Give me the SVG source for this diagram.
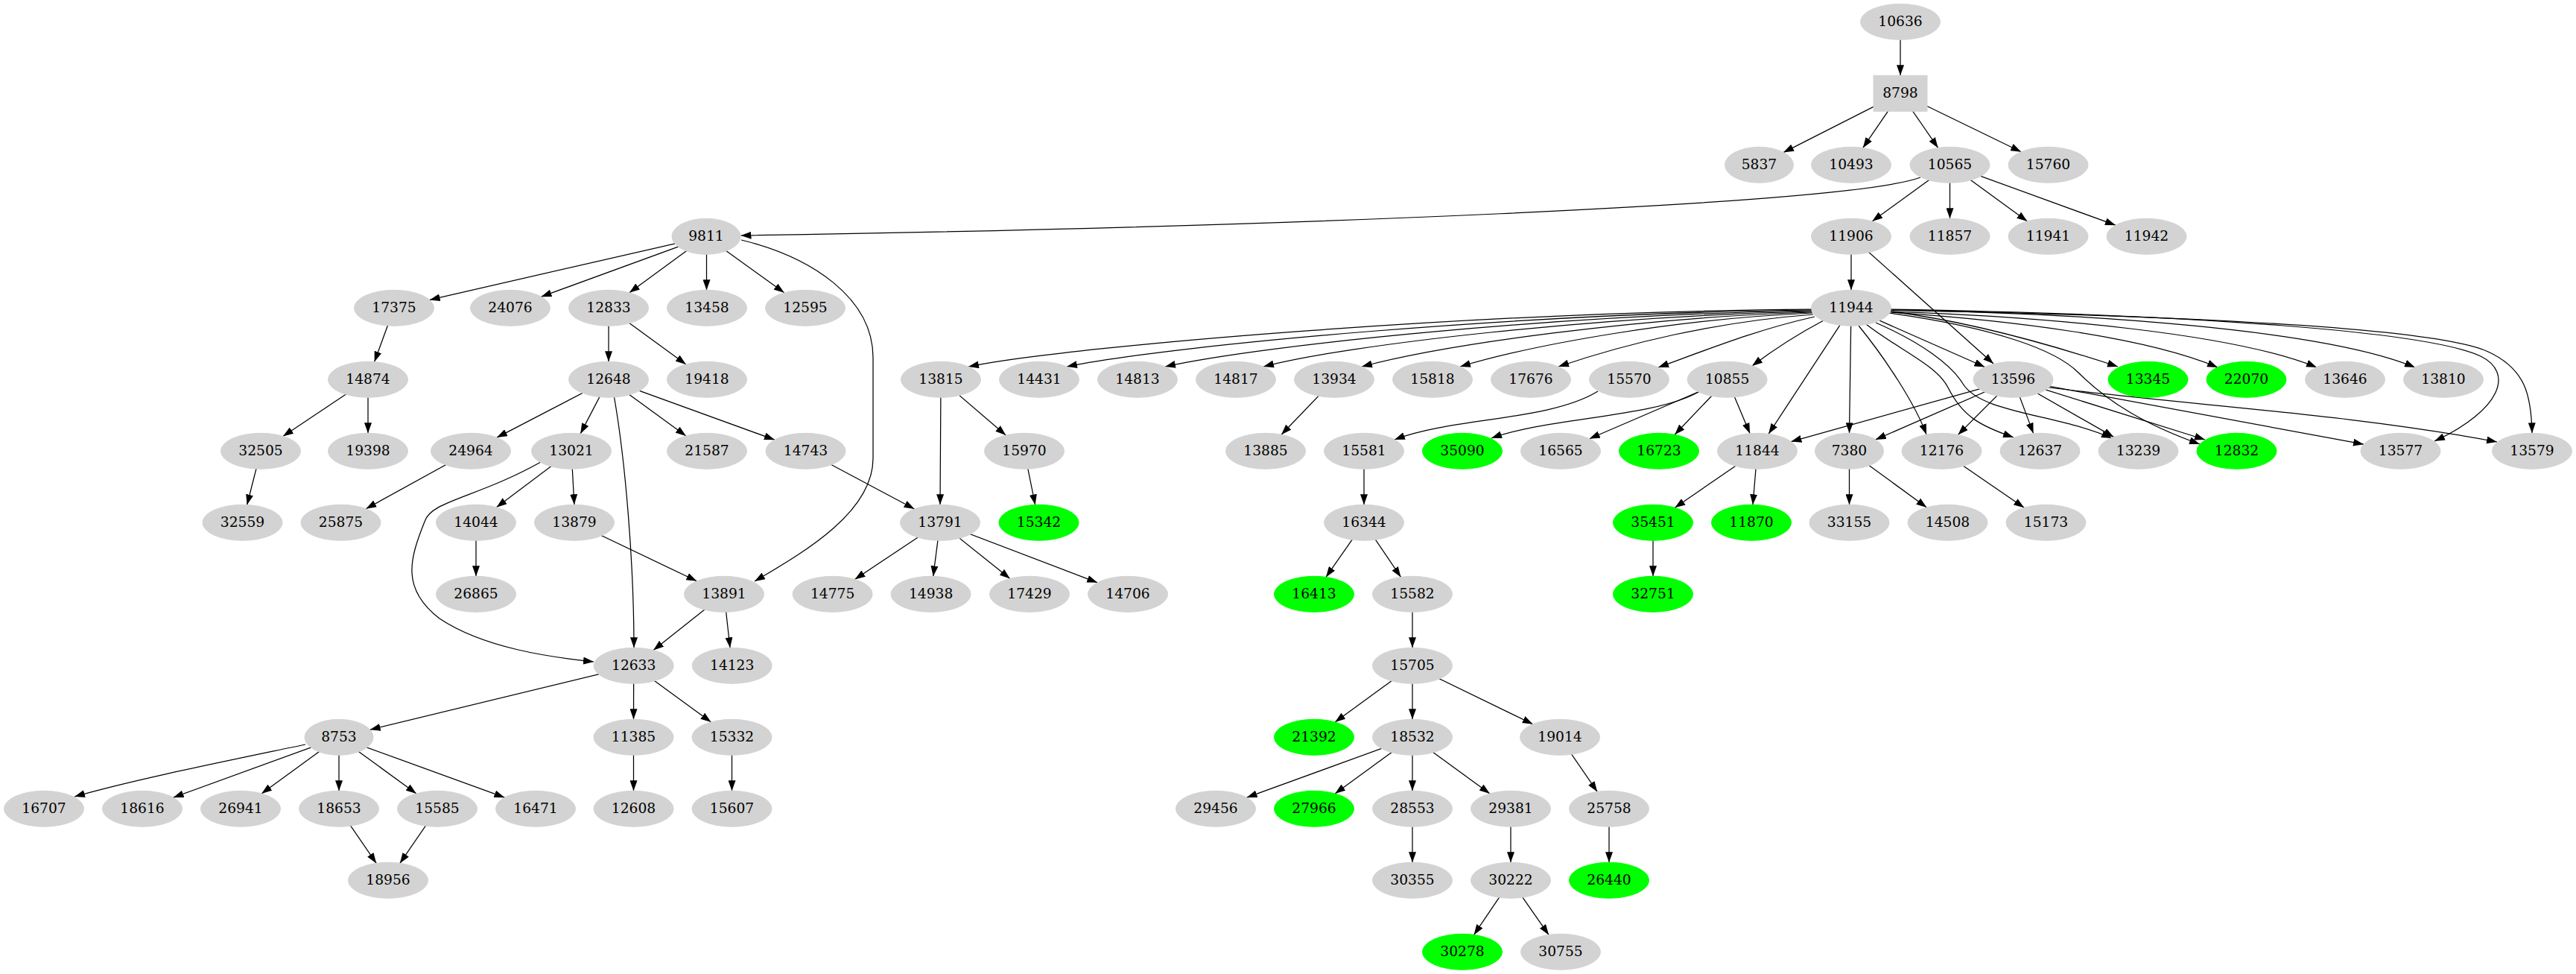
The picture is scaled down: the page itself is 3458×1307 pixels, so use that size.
<svg xmlns="http://www.w3.org/2000/svg" width="3458" height="1307" viewBox="0 0 3458 1307">
<style>
.node ellipse,.node rect{fill:#d3d3d3;stroke:#d3d3d3;stroke-width:1}
.node.g ellipse{fill:#00ff00;stroke:#00ff00}
.node text{font-family:"DejaVu Serif",serif;font-size:18.67px;text-anchor:middle;fill:#000}
#edges path{fill:none;stroke:#000;stroke-width:1.25;marker-end:url(#arr)}
</style>
<defs>
<marker id="arr" markerUnits="userSpaceOnUse" markerWidth="14" markerHeight="10" viewBox="0 0 14 10" refX="14" refY="5" orient="auto"><path d="M0,0 L14,5 L0,10 z" fill="#000"/></marker>
</defs>
<rect width="3458" height="1307" fill="#fff"/>
<g id="edges">
<path d="M2551,29 L2551,101.3"/>
<path d="M2551,125 L2394,204.6"/>
<path d="M2551,125 L2500.8,198.4"/>
<path d="M2551,125 L2601.6,198.4"/>
<path d="M2551,125 L2713.1,203.7"/>
<path d="M2578,238 C2480,275 1700,305 994.5,316"/>
<path d="M2617.5,221.3 L2513.2,296.9"/>
<path d="M2617.5,221.3 L2617.5,293.3"/>
<path d="M2617.5,221.3 L2721.4,296.9"/>
<path d="M2617.5,221.3 L2839.9,302.2"/>
<path d="M2485,317.3 L2485,389.3"/>
<path d="M2485,317.3 L2676,488"/>
<path d="M948,317.3 L576.7,402.4"/>
<path d="M948,317.3 L726.5,398.2"/>
<path d="M948,317.3 L844.9,392.8"/>
<path d="M948.5,317.3 L948.5,389.3"/>
<path d="M948,317.3 L1052.7,392.8"/>
<path d="M995,322 C1090,345 1172,400 1172,480 L1172,615 C1172,690 1072,745 1013,780"/>
<path d="M529,413.3 L502.6,485.6"/>
<path d="M817,413.3 L817,485.3"/>
<path d="M817,413.3 L920.9,488.9"/>
<path d="M494,509.3 L379.9,585.4"/>
<path d="M494,509.3 L494,581.3"/>
<path d="M350,605.3 L331.6,677.5"/>
<path d="M817,509.3 L667,587.1"/>
<path d="M817,509.3 L779.2,581.9"/>
<path d="M817,509.3 L920.9,584.9"/>
<path d="M817,509.3 L1039.9,590.2"/>
<path d="M824,530 C840,620 851,760 851,869.3"/>
<path d="M632,605.3 L491.3,682.7"/>
<path d="M767,605.3 L666.5,680.7"/>
<path d="M767,605.3 L770.9,677.3"/>
<path d="M726,620 C640,668 578,672 570,700 C550,750 538,790 590,830 C650,870 740,882 797,888"/>
<path d="M771,701.3 L935.4,779.8"/>
<path d="M639,701.3 L639,773.3"/>
<path d="M1081.5,605.3 L1227.5,683"/>
<path d="M972,797.3 L877.1,872.4"/>
<path d="M972,797.3 L980,869.3"/>
<path d="M850.7,893.3 L496.7,979.2"/>
<path d="M850.7,893.3 L850.5,965.3"/>
<path d="M850.7,893.3 L954.5,968.9"/>
<path d="M410,999 C300,1022 180,1046 100,1069"/>
<path d="M455,989.3 L232.6,1070.2"/>
<path d="M455,989.3 L351.1,1064.9"/>
<path d="M455,989.3 L455,1061.3"/>
<path d="M455,989.3 L558.9,1064.9"/>
<path d="M455,989.3 L677.4,1070.2"/>
<path d="M455,1085.3 L505.2,1158.4"/>
<path d="M587,1085.3 L536.8,1158.4"/>
<path d="M850.5,989.3 L850.5,1061.3"/>
<path d="M982.5,989.3 L982.5,1061.3"/>
<path d="M2432,415 C2000,418 1454,462 1300,492"/>
<path d="M2432,416 C2050,420 1580,462 1432,492"/>
<path d="M2432,417 C2100,422 1700,462 1564,492"/>
<path d="M2432,418 C2150,424 1810,462 1696,492"/>
<path d="M2432,419 C2200,426 1940,462 1828,492"/>
<path d="M2433,420 C2250,428 2060,462 1960,492"/>
<path d="M2434,422 C2300,432 2180,462 2092,492"/>
<path d="M2436,425 C2360,442 2300,466 2226,493"/>
<path d="M2448,430 C2410,450 2380,470 2352,491"/>
<path d="M2485,413.3 L2374.1,582.3"/>
<path d="M2485,413.3 L2482.5,581.3"/>
<path d="M2495,437 C2530,480 2570,540 2586,583"/>
<path d="M2505,435 C2550,470 2600,490 2615,520 C2635,560 2660,572 2703,587"/>
<path d="M2518,433 C2580,460 2620,490 2635,515 C2660,555 2760,555 2835,588"/>
<path d="M2485,413.3 L2664.4,492.5"/>
<path d="M2536,420 C2680,440 2760,470 2790,500 C2830,540 2880,570 2953,596"/>
<path d="M2538,418 C2650,432 2770,468 2843,492"/>
<path d="M2538,419 C2700,430 2880,452 2977,493"/>
<path d="M2538,418 C2750,425 3000,448 3110,493"/>
<path d="M2538,416 C2800,420 3120,442 3242,493"/>
<path d="M2538,415 C2950,422 3260,445 3330,478 C3375,500 3358,550 3268,592"/>
<path d="M2538,416 C2950,424 3270,440 3340,472 C3390,495 3398,530 3399,581.3"/>
<path d="M2702.5,509.3 L2404.4,592.6"/>
<path d="M2702.5,509.3 L2517.8,589.9"/>
<path d="M2702.5,509.3 L2628.4,583.4"/>
<path d="M2702.5,509.3 L2729.6,581.6"/>
<path d="M2702.5,509.3 L2837.5,586.4"/>
<path d="M2702.5,509.3 L2960,590"/>
<path d="M2702.5,509.3 L3173,596.2"/>
<path d="M2750,520 C2950,545 3150,555 3352,593"/>
<path d="M1263,509.3 L1262,677.3"/>
<path d="M1263,509.3 L1350.2,584"/>
<path d="M1375,605.3 L1389.7,677.5"/>
<path d="M1262,701.3 L1147.5,777.4"/>
<path d="M1262,701.3 L1252.7,773.4"/>
<path d="M1262,701.3 L1355.8,776.4"/>
<path d="M1262,701.3 L1473.2,781.8"/>
<path d="M1791,509.3 L1720.1,583.3"/>
<path d="M2145,525 C2080,565 1950,560 1872,590"/>
<path d="M2280,526 C2220,560 2080,560 2002,588"/>
<path d="M2318.6,509.3 L2133.7,588.7"/>
<path d="M2318.6,509.3 L2248.1,583.2"/>
<path d="M2318.6,509.3 L2349.1,581.7"/>
<path d="M1831,605.3 L1831,677.3"/>
<path d="M1831,701.3 L1780,774.4"/>
<path d="M1831,701.3 L1880.5,774.4"/>
<path d="M1896,797.3 L1896,869.3"/>
<path d="M1896,893.3 L1792.1,968.9"/>
<path d="M1896,893.3 L1896,965.3"/>
<path d="M1896,893.3 L2057.7,971.7"/>
<path d="M1896,989.3 L1673.6,1070.2"/>
<path d="M1896,989.3 L1792.1,1064.9"/>
<path d="M1896,989.3 L1896,1061.3"/>
<path d="M1896,989.3 L1999.9,1064.9"/>
<path d="M2094,989.3 L2144.2,1062.4"/>
<path d="M1896,1085.3 L1896,1157.3"/>
<path d="M2028,1085.3 L2028,1157.3"/>
<path d="M2160,1085.3 L2160,1157.3"/>
<path d="M2028,1181.3 L1978.6,1254.4"/>
<path d="M2028,1181.3 L2079,1254.4"/>
<path d="M2359,605.3 L2248.3,681.2"/>
<path d="M2359,605.3 L2353,677.3"/>
<path d="M2219,701.3 L2219,773.3"/>
<path d="M2482.5,605.3 L2482.5,677.3"/>
<path d="M2482.5,605.3 L2586.4,680.9"/>
<path d="M2606.5,605.3 L2717.2,681.2"/>
</g>
<g id="node-10636" class="node"><ellipse cx="2551" cy="29.3" rx="53.5" ry="24"/><text x="2551" y="34.9">10636</text></g>
<g id="node-8798" class="node"><rect x="2515" y="101.3" width="72" height="48"/><text x="2551" y="130.9">8798</text></g>
<g id="node-5837" class="node"><ellipse cx="2361.5" cy="221.3" rx="46" ry="24"/><text x="2361.5" y="226.9">5837</text></g>
<g id="node-10493" class="node"><ellipse cx="2485" cy="221.3" rx="53.5" ry="24"/><text x="2485" y="226.9">10493</text></g>
<g id="node-10565" class="node"><ellipse cx="2617.5" cy="221.3" rx="53.5" ry="24"/><text x="2617.5" y="226.9">10565</text></g>
<g id="node-15760" class="node"><ellipse cx="2749.5" cy="221.3" rx="53.5" ry="24"/><text x="2749.5" y="226.9">15760</text></g>
<g id="node-9811" class="node"><ellipse cx="948" cy="317.3" rx="46" ry="24"/><text x="948" y="322.9">9811</text></g>
<g id="node-11906" class="node"><ellipse cx="2485" cy="317.3" rx="53.5" ry="24"/><text x="2485" y="322.9">11906</text></g>
<g id="node-11857" class="node"><ellipse cx="2617.5" cy="317.3" rx="53.5" ry="24"/><text x="2617.5" y="322.9">11857</text></g>
<g id="node-11941" class="node"><ellipse cx="2749.5" cy="317.3" rx="53.5" ry="24"/><text x="2749.5" y="322.9">11941</text></g>
<g id="node-11942" class="node"><ellipse cx="2881.5" cy="317.3" rx="53.5" ry="24"/><text x="2881.5" y="322.9">11942</text></g>
<g id="node-17375" class="node"><ellipse cx="529" cy="413.3" rx="53.5" ry="24"/><text x="529" y="418.9">17375</text></g>
<g id="node-24076" class="node"><ellipse cx="685" cy="413.3" rx="53.5" ry="24"/><text x="685" y="418.9">24076</text></g>
<g id="node-12833" class="node"><ellipse cx="817" cy="413.3" rx="53.5" ry="24"/><text x="817" y="418.9">12833</text></g>
<g id="node-13458" class="node"><ellipse cx="949" cy="413.3" rx="53.5" ry="24"/><text x="949" y="418.9">13458</text></g>
<g id="node-12595" class="node"><ellipse cx="1081" cy="413.3" rx="53.5" ry="24"/><text x="1081" y="418.9">12595</text></g>
<g id="node-11944" class="node"><ellipse cx="2485" cy="413.3" rx="53.5" ry="24"/><text x="2485" y="418.9">11944</text></g>
<g id="node-14874" class="node"><ellipse cx="494" cy="509.3" rx="53.5" ry="24"/><text x="494" y="514.9">14874</text></g>
<g id="node-12648" class="node"><ellipse cx="817" cy="509.3" rx="53.5" ry="24"/><text x="817" y="514.9">12648</text></g>
<g id="node-19418" class="node"><ellipse cx="949" cy="509.3" rx="53.5" ry="24"/><text x="949" y="514.9">19418</text></g>
<g id="node-13815" class="node"><ellipse cx="1263" cy="509.3" rx="53.5" ry="24"/><text x="1263" y="514.9">13815</text></g>
<g id="node-14431" class="node"><ellipse cx="1395" cy="509.3" rx="53.5" ry="24"/><text x="1395" y="514.9">14431</text></g>
<g id="node-14813" class="node"><ellipse cx="1527" cy="509.3" rx="53.5" ry="24"/><text x="1527" y="514.9">14813</text></g>
<g id="node-14817" class="node"><ellipse cx="1659" cy="509.3" rx="53.5" ry="24"/><text x="1659" y="514.9">14817</text></g>
<g id="node-13934" class="node"><ellipse cx="1791" cy="509.3" rx="53.5" ry="24"/><text x="1791" y="514.9">13934</text></g>
<g id="node-15818" class="node"><ellipse cx="1923" cy="509.3" rx="53.5" ry="24"/><text x="1923" y="514.9">15818</text></g>
<g id="node-17676" class="node"><ellipse cx="2055" cy="509.3" rx="53.5" ry="24"/><text x="2055" y="514.9">17676</text></g>
<g id="node-15570" class="node"><ellipse cx="2187" cy="509.3" rx="53.5" ry="24"/><text x="2187" y="514.9">15570</text></g>
<g id="node-10855" class="node"><ellipse cx="2318.6" cy="509.3" rx="53.5" ry="24"/><text x="2318.6" y="514.9">10855</text></g>
<g id="node-13596" class="node"><ellipse cx="2702.5" cy="509.3" rx="53.5" ry="24"/><text x="2702.5" y="514.9">13596</text></g>
<g id="node-13345" class="node g"><ellipse cx="2883.5" cy="509.3" rx="53.5" ry="24"/><text x="2883.5" y="514.9">13345</text></g>
<g id="node-22070" class="node g"><ellipse cx="3015.5" cy="509.3" rx="53.5" ry="24"/><text x="3015.5" y="514.9">22070</text></g>
<g id="node-13646" class="node"><ellipse cx="3148" cy="509.3" rx="53.5" ry="24"/><text x="3148" y="514.9">13646</text></g>
<g id="node-13810" class="node"><ellipse cx="3280" cy="509.3" rx="53.5" ry="24"/><text x="3280" y="514.9">13810</text></g>
<g id="node-32505" class="node"><ellipse cx="350" cy="605.3" rx="53.5" ry="24"/><text x="350" y="610.9">32505</text></g>
<g id="node-19398" class="node"><ellipse cx="494" cy="605.3" rx="53.5" ry="24"/><text x="494" y="610.9">19398</text></g>
<g id="node-24964" class="node"><ellipse cx="632" cy="605.3" rx="53.5" ry="24"/><text x="632" y="610.9">24964</text></g>
<g id="node-13021" class="node"><ellipse cx="767" cy="605.3" rx="53.5" ry="24"/><text x="767" y="610.9">13021</text></g>
<g id="node-21587" class="node"><ellipse cx="949" cy="605.3" rx="53.5" ry="24"/><text x="949" y="610.9">21587</text></g>
<g id="node-14743" class="node"><ellipse cx="1081.5" cy="605.3" rx="53.5" ry="24"/><text x="1081.5" y="610.9">14743</text></g>
<g id="node-15970" class="node"><ellipse cx="1375" cy="605.3" rx="53.5" ry="24"/><text x="1375" y="610.9">15970</text></g>
<g id="node-13885" class="node"><ellipse cx="1699" cy="605.3" rx="53.5" ry="24"/><text x="1699" y="610.9">13885</text></g>
<g id="node-15581" class="node"><ellipse cx="1831" cy="605.3" rx="53.5" ry="24"/><text x="1831" y="610.9">15581</text></g>
<g id="node-35090" class="node g"><ellipse cx="1963" cy="605.3" rx="53.5" ry="24"/><text x="1963" y="610.9">35090</text></g>
<g id="node-16565" class="node"><ellipse cx="2095" cy="605.3" rx="53.5" ry="24"/><text x="2095" y="610.9">16565</text></g>
<g id="node-16723" class="node g"><ellipse cx="2227" cy="605.3" rx="53.5" ry="24"/><text x="2227" y="610.9">16723</text></g>
<g id="node-11844" class="node"><ellipse cx="2359" cy="605.3" rx="53.5" ry="24"/><text x="2359" y="610.9">11844</text></g>
<g id="node-7380" class="node"><ellipse cx="2482.5" cy="605.3" rx="46" ry="24"/><text x="2482.5" y="610.9">7380</text></g>
<g id="node-12176" class="node"><ellipse cx="2606.5" cy="605.3" rx="53.5" ry="24"/><text x="2606.5" y="610.9">12176</text></g>
<g id="node-12637" class="node"><ellipse cx="2738.5" cy="605.3" rx="53.5" ry="24"/><text x="2738.5" y="610.9">12637</text></g>
<g id="node-13239" class="node"><ellipse cx="2870.5" cy="605.3" rx="53.5" ry="24"/><text x="2870.5" y="610.9">13239</text></g>
<g id="node-12832" class="node g"><ellipse cx="3002.5" cy="605.3" rx="53.5" ry="24"/><text x="3002.5" y="610.9">12832</text></g>
<g id="node-13577" class="node"><ellipse cx="3222.5" cy="605.3" rx="53.5" ry="24"/><text x="3222.5" y="610.9">13577</text></g>
<g id="node-13579" class="node"><ellipse cx="3399" cy="605.3" rx="53.5" ry="24"/><text x="3399" y="610.9">13579</text></g>
<g id="node-32559" class="node"><ellipse cx="325.5" cy="701.3" rx="53.5" ry="24"/><text x="325.5" y="706.9">32559</text></g>
<g id="node-25875" class="node"><ellipse cx="457.5" cy="701.3" rx="53.5" ry="24"/><text x="457.5" y="706.9">25875</text></g>
<g id="node-14044" class="node"><ellipse cx="639" cy="701.3" rx="53.5" ry="24"/><text x="639" y="706.9">14044</text></g>
<g id="node-13879" class="node"><ellipse cx="771" cy="701.3" rx="53.5" ry="24"/><text x="771" y="706.9">13879</text></g>
<g id="node-13791" class="node"><ellipse cx="1262" cy="701.3" rx="53.5" ry="24"/><text x="1262" y="706.9">13791</text></g>
<g id="node-15342" class="node g"><ellipse cx="1394.5" cy="701.3" rx="53.5" ry="24"/><text x="1394.5" y="706.9">15342</text></g>
<g id="node-16344" class="node"><ellipse cx="1831" cy="701.3" rx="53.5" ry="24"/><text x="1831" y="706.9">16344</text></g>
<g id="node-35451" class="node g"><ellipse cx="2219" cy="701.3" rx="53.5" ry="24"/><text x="2219" y="706.9">35451</text></g>
<g id="node-11870" class="node g"><ellipse cx="2351" cy="701.3" rx="53.5" ry="24"/><text x="2351" y="706.9">11870</text></g>
<g id="node-33155" class="node"><ellipse cx="2482.5" cy="701.3" rx="53.5" ry="24"/><text x="2482.5" y="706.9">33155</text></g>
<g id="node-14508" class="node"><ellipse cx="2614.5" cy="701.3" rx="53.5" ry="24"/><text x="2614.5" y="706.9">14508</text></g>
<g id="node-15173" class="node"><ellipse cx="2746.5" cy="701.3" rx="53.5" ry="24"/><text x="2746.5" y="706.9">15173</text></g>
<g id="node-26865" class="node"><ellipse cx="639" cy="797.3" rx="53.5" ry="24"/><text x="639" y="802.9">26865</text></g>
<g id="node-13891" class="node"><ellipse cx="972" cy="797.3" rx="53.5" ry="24"/><text x="972" y="802.9">13891</text></g>
<g id="node-14775" class="node"><ellipse cx="1117.6" cy="797.3" rx="53.5" ry="24"/><text x="1117.6" y="802.9">14775</text></g>
<g id="node-14938" class="node"><ellipse cx="1249.6" cy="797.3" rx="53.5" ry="24"/><text x="1249.6" y="802.9">14938</text></g>
<g id="node-17429" class="node"><ellipse cx="1382" cy="797.3" rx="53.5" ry="24"/><text x="1382" y="802.9">17429</text></g>
<g id="node-14706" class="node"><ellipse cx="1514" cy="797.3" rx="53.5" ry="24"/><text x="1514" y="802.9">14706</text></g>
<g id="node-16413" class="node g"><ellipse cx="1764" cy="797.3" rx="53.5" ry="24"/><text x="1764" y="802.9">16413</text></g>
<g id="node-15582" class="node"><ellipse cx="1896" cy="797.3" rx="53.5" ry="24"/><text x="1896" y="802.9">15582</text></g>
<g id="node-32751" class="node g"><ellipse cx="2219" cy="797.3" rx="53.5" ry="24"/><text x="2219" y="802.9">32751</text></g>
<g id="node-12633" class="node"><ellipse cx="850.7" cy="893.3" rx="53.5" ry="24"/><text x="850.7" y="898.9">12633</text></g>
<g id="node-14123" class="node"><ellipse cx="982.7" cy="893.3" rx="53.5" ry="24"/><text x="982.7" y="898.9">14123</text></g>
<g id="node-15705" class="node"><ellipse cx="1896" cy="893.3" rx="53.5" ry="24"/><text x="1896" y="898.9">15705</text></g>
<g id="node-8753" class="node"><ellipse cx="455" cy="989.3" rx="46" ry="24"/><text x="455" y="994.9">8753</text></g>
<g id="node-11385" class="node"><ellipse cx="850.5" cy="989.3" rx="53.5" ry="24"/><text x="850.5" y="994.9">11385</text></g>
<g id="node-15332" class="node"><ellipse cx="982.5" cy="989.3" rx="53.5" ry="24"/><text x="982.5" y="994.9">15332</text></g>
<g id="node-21392" class="node g"><ellipse cx="1764" cy="989.3" rx="53.5" ry="24"/><text x="1764" y="994.9">21392</text></g>
<g id="node-18532" class="node"><ellipse cx="1896" cy="989.3" rx="53.5" ry="24"/><text x="1896" y="994.9">18532</text></g>
<g id="node-19014" class="node"><ellipse cx="2094" cy="989.3" rx="53.5" ry="24"/><text x="2094" y="994.9">19014</text></g>
<g id="node-16707" class="node"><ellipse cx="59" cy="1085.3" rx="53.5" ry="24"/><text x="59" y="1090.9">16707</text></g>
<g id="node-18616" class="node"><ellipse cx="191" cy="1085.3" rx="53.5" ry="24"/><text x="191" y="1090.9">18616</text></g>
<g id="node-26941" class="node"><ellipse cx="323" cy="1085.3" rx="53.5" ry="24"/><text x="323" y="1090.9">26941</text></g>
<g id="node-18653" class="node"><ellipse cx="455" cy="1085.3" rx="53.5" ry="24"/><text x="455" y="1090.9">18653</text></g>
<g id="node-15585" class="node"><ellipse cx="587" cy="1085.3" rx="53.5" ry="24"/><text x="587" y="1090.9">15585</text></g>
<g id="node-16471" class="node"><ellipse cx="719" cy="1085.3" rx="53.5" ry="24"/><text x="719" y="1090.9">16471</text></g>
<g id="node-12608" class="node"><ellipse cx="850.5" cy="1085.3" rx="53.5" ry="24"/><text x="850.5" y="1090.9">12608</text></g>
<g id="node-15607" class="node"><ellipse cx="982.5" cy="1085.3" rx="53.5" ry="24"/><text x="982.5" y="1090.9">15607</text></g>
<g id="node-29456" class="node"><ellipse cx="1632" cy="1085.3" rx="53.5" ry="24"/><text x="1632" y="1090.9">29456</text></g>
<g id="node-27966" class="node g"><ellipse cx="1764" cy="1085.3" rx="53.5" ry="24"/><text x="1764" y="1090.9">27966</text></g>
<g id="node-28553" class="node"><ellipse cx="1896" cy="1085.3" rx="53.5" ry="24"/><text x="1896" y="1090.9">28553</text></g>
<g id="node-29381" class="node"><ellipse cx="2028" cy="1085.3" rx="53.5" ry="24"/><text x="2028" y="1090.9">29381</text></g>
<g id="node-25758" class="node"><ellipse cx="2160" cy="1085.3" rx="53.5" ry="24"/><text x="2160" y="1090.9">25758</text></g>
<g id="node-18956" class="node"><ellipse cx="521" cy="1181.3" rx="53.5" ry="24"/><text x="521" y="1186.9">18956</text></g>
<g id="node-30355" class="node"><ellipse cx="1896" cy="1181.3" rx="53.5" ry="24"/><text x="1896" y="1186.9">30355</text></g>
<g id="node-30222" class="node"><ellipse cx="2028" cy="1181.3" rx="53.5" ry="24"/><text x="2028" y="1186.9">30222</text></g>
<g id="node-26440" class="node g"><ellipse cx="2160" cy="1181.3" rx="53.5" ry="24"/><text x="2160" y="1186.9">26440</text></g>
<g id="node-30278" class="node g"><ellipse cx="1963" cy="1277.3" rx="53.5" ry="24"/><text x="1963" y="1282.9">30278</text></g>
<g id="node-30755" class="node"><ellipse cx="2095" cy="1277.3" rx="53.5" ry="24"/><text x="2095" y="1282.9">30755</text></g>
</svg>
